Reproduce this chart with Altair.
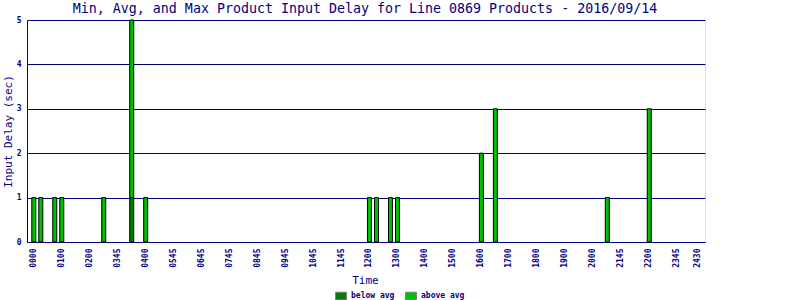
import altair as alt
import pandas as pd

chart_title = ["Min, Avg, and Max Product Input Delay for Line 0869 Products - 2016/09/14"]

# 15-minute slots on the x axis (96 slots)
n_slots = 96
tick_slots = [0, 4, 8, 12, 16, 20, 24, 28, 32, 36, 40, 44, 48, 52, 56, 60,
              64, 68, 72, 76, 80, 84, 88, 92, 95]
tick_labels = ["0000", "0100", "0200", "0345", "0400", "0545", "0645", "0745",
               "0845", "0945", "1045", "1145", "1200", "1300", "1400", "1500",
               "1600", "1700", "1800", "1900", "2000", "2145", "2200", "2345",
               "2430"]

# bars: slot index, below-avg part, above-avg part (sec)
bar_slots = [0, 1, 3, 4, 10, 14, 16, 48, 49, 51, 52, 64, 66, 82, 88]
below_avg = [0, 0, 0, 0, 0, 1, 0, 0, 0, 0, 0, 0, 0, 0, 0]
above_avg = [1, 1, 1, 1, 1, 4, 1, 1, 1, 1, 1, 2, 3, 1, 3]

series = ["below avg", "above avg"]
colors = ["#008000", "#00C000"]

rows = []
for s, b, a in zip(bar_slots, below_avg, above_avg):
    rows.append({"slot": s, "series": series[0], "ord": 0, "v": b})
    rows.append({"slot": s, "series": series[1], "ord": 1, "v": a})
df = pd.DataFrame(rows)
df = df[df["v"] > 0]

navy = "#000080"
mono = "DejaVu Sans Mono"

label_expr = "[" + ",".join("'%s'" % t for t in tick_labels) + "][indexof([" + \
    ",".join(str(t) for t in tick_slots) + "], datum.value)]"

bars = alt.Chart(df).mark_bar(stroke="black", strokeWidth=1).encode(
    x=alt.X("slot:O",
            scale=alt.Scale(domain=list(range(n_slots)), paddingInner=0.4286,
                            paddingOuter=0.686),
            axis=alt.Axis(values=tick_slots, labelExpr=label_expr, labelAngle=-90,
                          labelFont=mono, labelFontSize=8, labelFontWeight="bold",
                          labelColor=navy, labelPadding=6, ticks=False,
                          domainColor=navy, title="Time", titleFont=mono,
                          titleFontSize=11, titleFontWeight="normal",
                          titleColor=navy, titleBaseline="alphabetic",
                          titleY=41, titleX=338, grid=False)),
    y=alt.Y("v:Q", stack="zero",
            scale=alt.Scale(domain=[0, 5], nice=False),
            axis=alt.Axis(values=[0, 1, 2, 3, 4, 5], ticks=False, labelFont=mono,
                          labelFontSize=8, labelFontWeight="bold",
                          labelColor=navy, labelPadding=6, domainColor=navy,
                          gridColor=navy, gridOpacity=1, title="Input Delay (sec)",
                          titleFont=mono, titleFontSize=11,
                          titleFontWeight="normal", titleColor=navy,
                          titleAngle=270, titleBaseline="middle",
                          titleAlign="center", titleX=-19, titleY=111)),
    color=alt.Color("series:N", scale=alt.Scale(domain=series, range=colors),
                    legend=alt.Legend(title=None, orient="none", direction="horizontal",
                                      legendX=308, legendY=270,
                                      symbolType="M-1,-0.7L1,-0.7L1,0.7L-1,0.7Z",
                                      symbolSize=121, symbolStrokeColor="#808080",
                                      symbolStrokeWidth=1, symbolOpacity=1,
                                      labelFont=mono, labelFontSize=8,
                                      labelFontWeight="bold", labelColor=navy,
                                      labelOffset=4, columnPadding=8)),
    order=alt.Order("ord:Q", sort="ascending"),
)

title_text = alt.Chart(pd.DataFrame({"t": chart_title})).mark_text(
    font=mono, fontSize=13.3, color=navy, align="center", baseline="alphabetic"
).encode(text="t:N", x=alt.value(338), y=alt.value(-7.5))

chart = alt.layer(bars, title_text).properties(
    width=678, height=222,
    autosize=alt.AutoSizeParams(type="none"),
    padding={"left": 27, "top": 20, "right": 95, "bottom": 58},
).configure_view(stroke=navy, strokeWidth=1).configure(background="white")

chart.save("out.html", embed_options={"renderer": "svg", "actions": False})
